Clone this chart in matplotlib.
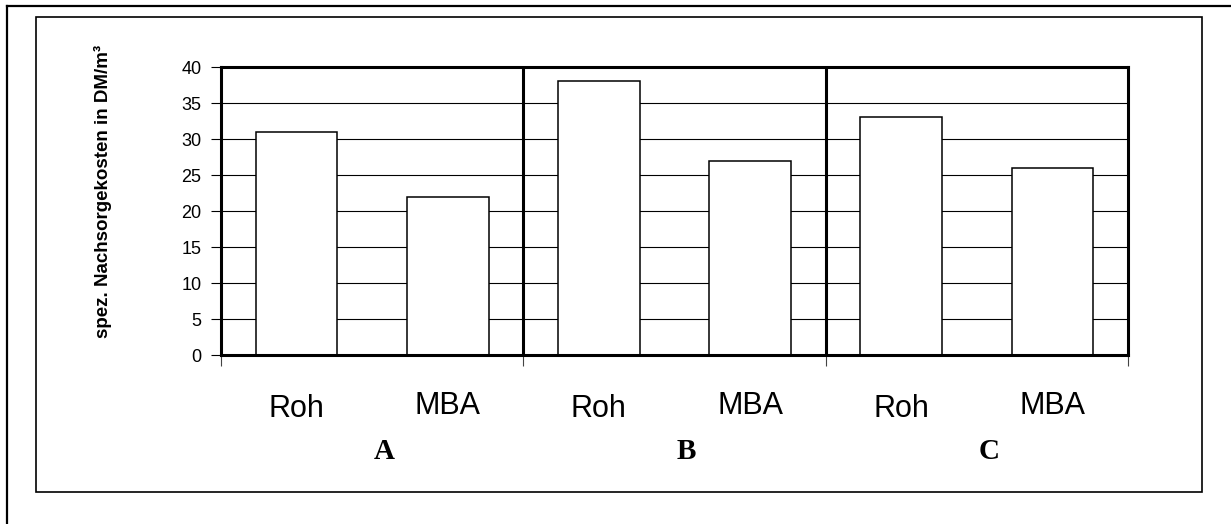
import matplotlib
matplotlib.use("Agg")
import matplotlib.pyplot as plt
from matplotlib.lines import Line2D
from matplotlib.patches import Rectangle

plt.rcParams['font.family'] = ['Liberation Sans', 'DejaVu Sans']

# Daten
gruppen = ['A', 'B', 'C']
kategorien = ['Roh', 'MBA', 'Roh', 'MBA', 'Roh', 'MBA']
kosten = [31, 22, 38, 27, 33, 26]
y_ticks = [0, 5, 10, 15, 20, 25, 30, 35, 40]

W, H = 1231, 524
fig = plt.figure(figsize=(W / 100, H / 100), dpi=100)

# Rahmen (Seite + Diagrammbereich)
fig.add_artist(Line2D([7 / W, 1.0], [1 - 6 / H, 1 - 6 / H], color='black', lw=1.6,
                      transform=fig.transFigure))
fig.add_artist(Line2D([7 / W, 7 / W], [0, 1 - 6 / H], color='black', lw=1.6,
                      transform=fig.transFigure))
fig.add_artist(Rectangle((36 / W, 1 - 492 / H), (1202 - 36) / W, (492 - 17) / H,
                         fill=False, ec='black', lw=1.2, transform=fig.transFigure))

# Achsen
left, right, top, bottom = 221, 1128, 67, 355
ax = fig.add_axes([left / W, 1 - bottom / H, (right - left) / W, (bottom - top) / H])

x = list(range(len(kosten)))
ax.bar(x, kosten, width=0.54, color='white', edgecolor='black', linewidth=1.1, zorder=3)

ax.set_xlim(-0.5, 5.5)
ax.set_ylim(0, 40)
ax.set_yticks(y_ticks)
ax.set_yticklabels([str(v) for v in y_ticks], fontsize=13)
ax.tick_params(axis='y', direction='out', length=7, width=0.8, pad=7)
ax.yaxis.grid(True, color='black', lw=0.8)
ax.set_axisbelow(True)

# Trennlinien zwischen den Gruppen
for sep in [1.5, 3.5]:
    ax.axvline(sep, color='black', lw=2.2, zorder=4)

ax.set_xticks([-0.5, 1.5, 3.5, 5.5])
ax.set_xticklabels([])
ax.tick_params(axis='x', direction='out', length=8, width=0.8, color='#444444')

for s in ax.spines.values():
    s.set_linewidth(2.2)
    s.set_zorder(5)

# Kategorie- und Gruppenbeschriftungen
tr = ax.get_xaxis_transform()
for i, kat in enumerate(kategorien):
    yy = -0.215 if kat == 'Roh' else -0.205
    ax.text(i, yy, kat, transform=tr, ha='center', va='baseline', fontsize=22)

for g, name in enumerate(gruppen):
    ax.text(2 * g + 0.5 + 0.08, -0.36, name, transform=tr, ha='center', va='baseline',
            fontsize=21, fontweight='bold', family=['Liberation Serif', 'DejaVu Serif'])

fig.text(103 / W, 1 - 191 / H, 'spez. Nachsorgekosten in DM/m³', rotation=90,
         ha='center', va='center', fontsize=13.5, fontweight='bold')

fig.savefig('out.png', dpi=100)
